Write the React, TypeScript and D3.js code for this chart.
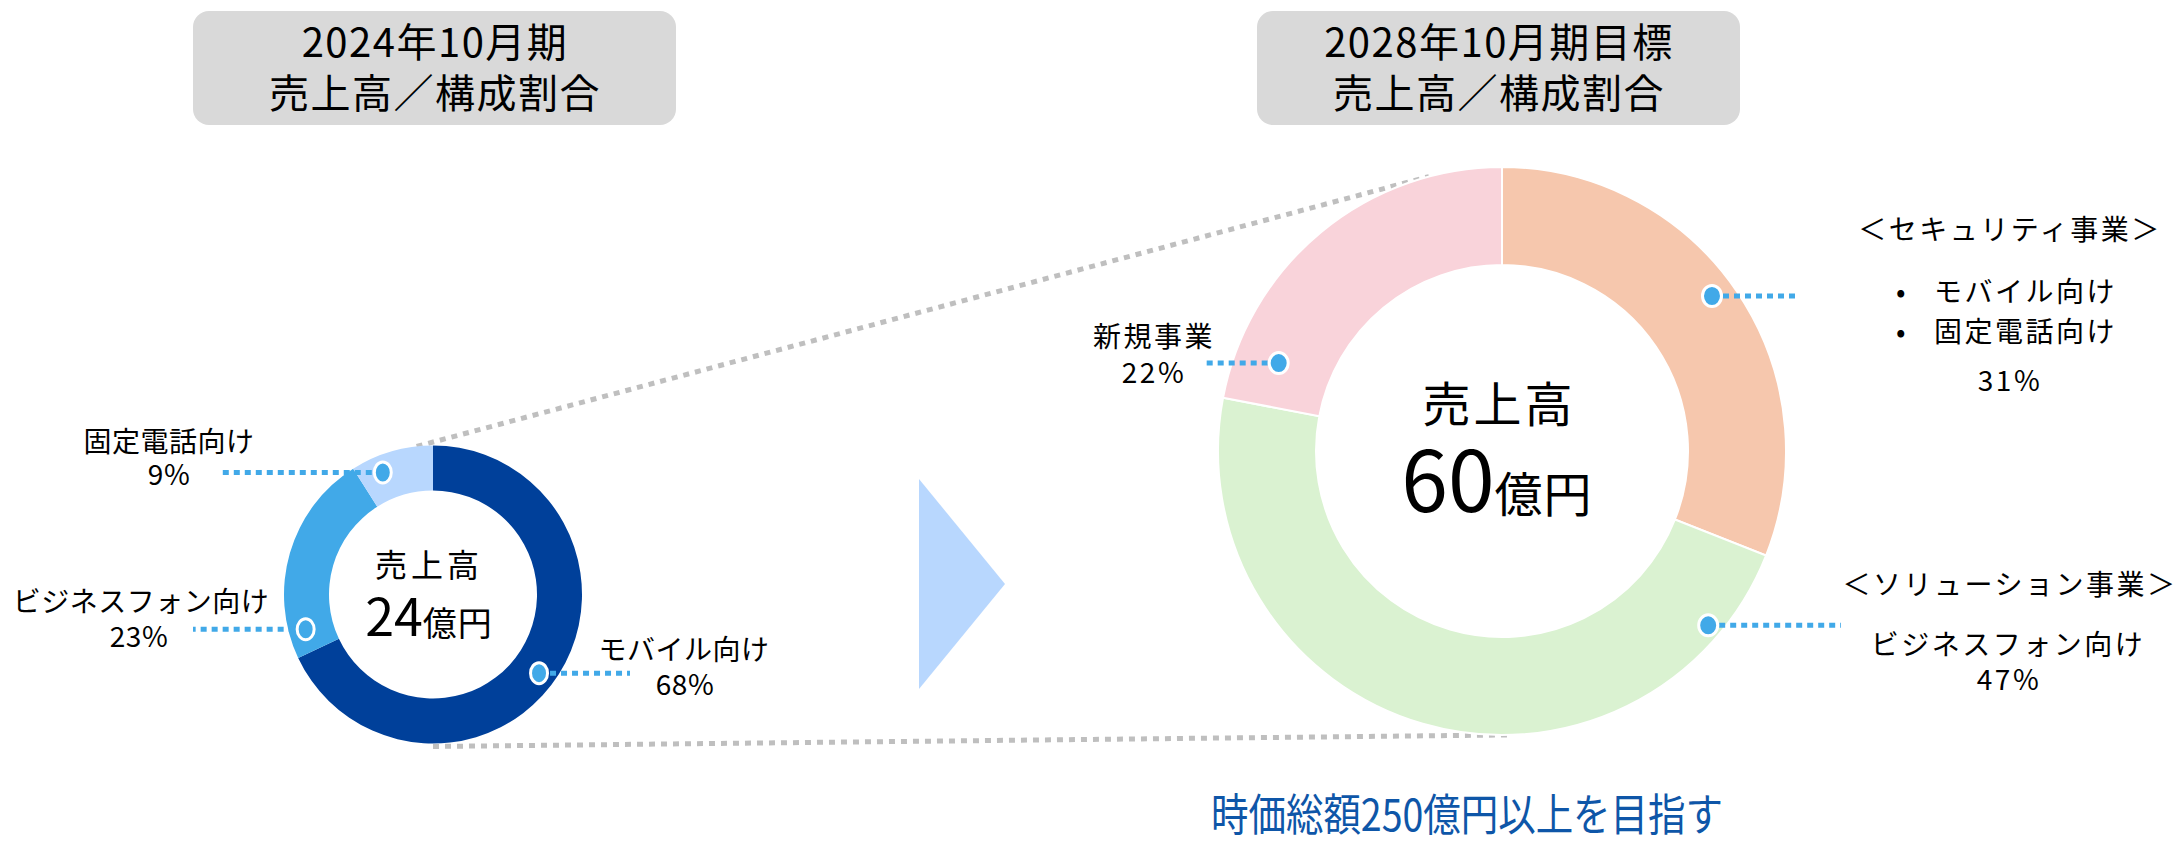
import React from "react";
import * as d3 from "d3";

// ---- data ----
const leftCategories = ["モバイル向け", "ビジネスフォン向け", "固定電話向け"];
const leftValues = [68, 23, 9];
const leftColors = ["#00409A", "#41A9E8", "#B8D7FE"];
const leftTotal = "24";

const rightCategories = ["セキュリティ事業", "ソリューション事業", "新規事業"];
const rightValues = [31, 47, 22];
const rightColors = ["#F6C7AD", "#DAF2D1", "#F9D3DA"];
const rightTotal = "60";

const leftTitle = ["2024年10月期", "売上高／構成割合"];
const rightTitle = ["2028年10月期目標", "売上高／構成割合"];
const centerLabel = "売上高";
const unitLabel = "億円";
const securityItems = ["モバイル向け", "固定電話向け"];
const goalText = "時価総額250億円以上を目指す";

// marker placement inside each slice (fraction of slice span)
const leftMarkerFrac = [0.517, 0.12, 0.31];
const rightMarkerFrac = [0.48, 0.11, 0.135];

const FONT = "'Noto Sans CJK JP', 'Noto Sans', sans-serif";
const MARK = "#41A9E8";

function polar(cx: number, cy: number, r: number, a: number) {
  return [cx + r * Math.sin(a), cy - r * Math.cos(a)];
}

export default function App() {
  const pie = d3.pie<number>().sort(null).value((d) => d);

  // left donut
  const L = { cx: 433, cy: 594.5, ri: 104, ro: 149, rm: 132 };
  const lArcs = pie(leftValues);
  const lArc = d3.arc<d3.PieArcDatum<number>>().innerRadius(L.ri).outerRadius(L.ro);
  const lMarks = lArcs.map((a, i) =>
    polar(L.cx, L.cy, L.rm, a.startAngle + leftMarkerFrac[i] * (a.endAngle - a.startAngle))
  );

  // right donut
  const R = { cx: 1502, cy: 451, ri: 186, ro: 284 };
  const rRadii = [261, 270, 240];
  const rArcs = pie(rightValues);
  const rArc = d3.arc<d3.PieArcDatum<number>>().innerRadius(R.ri).outerRadius(R.ro);
  const rMarks = rArcs.map((a, i) =>
    polar(R.cx, R.cy, rRadii[i], a.startAngle + rightMarkerFrac[i] * (a.endAngle - a.startAngle))
  );

  const lLeaderEnd = [630, 193, 222];
  const rLeaderEnd = [1800, 1841, 1205];

  // zoom connector lines
  const lTop = polar(L.cx, L.cy, L.ro, -0.11);
  const rTop = polar(R.cx, R.cy, R.ro, -0.26);
  const lBot = polar(L.cx, L.cy, L.ro + 3, Math.PI);
  const rBot = polar(R.cx, R.cy, R.ro, Math.PI - 0.02);

  const leader = (x1: number, y: number, x2: number, key: string) => (
    <line key={key} x1={x1} y1={y} x2={x2} y2={y} stroke={MARK} strokeWidth={5} strokeDasharray="6 5" />
  );

  return (
    <svg
      width={2182}
      height={841}
      style={{ position: "absolute", left: 0, top: 0, display: "block", background: "#fff" }}
      fontFamily={FONT}
    >
      {/* title boxes */}
      <rect x={193} y={11} width={483} height={114} rx={16} fill="#D9D9D9" />
      <rect x={1257} y={11} width={483} height={114} rx={16} fill="#D9D9D9" />
      <g fontSize={40} textAnchor="middle" fill="#000" letterSpacing={1.5}>
        <text x={435} y={57}>{leftTitle[0]}</text>
        <text x={435} y={108}>{leftTitle[1]}</text>
        <text x={1499} y={57}>{rightTitle[0]}</text>
        <text x={1499} y={108}>{rightTitle[1]}</text>
      </g>

      {/* connector dotted lines */}
      <line x1={lTop[0]} y1={lTop[1]} x2={rTop[0]} y2={rTop[1]} stroke="#BFBFBF" strokeWidth={5} strokeDasharray="6 6" />
      <line x1={lBot[0]} y1={lBot[1]} x2={rBot[0]} y2={rBot[1]} stroke="#BFBFBF" strokeWidth={5} strokeDasharray="6 6" />

      {/* arrow */}
      <polygon points="919,479 1005,584 919,689" fill="#B8D7FE" />

      {/* left donut */}
      <g transform={`translate(${L.cx},${L.cy})`}>
        {lArcs.map((a, i) => (
          <path key={i} d={lArc(a) || ""} fill={leftColors[i]} />
        ))}
      </g>
      {lMarks.map((m, i) => leader(m[0], m[1], lLeaderEnd[i], "ll" + i))}
      {lMarks.map((m, i) => (
        <ellipse key={"lm" + i} cx={m[0]} cy={m[1]} rx={8.5} ry={10.5} fill={MARK} stroke="#fff" strokeWidth={3} />
      ))}
      <text x={429} y={577} fontSize={32} textAnchor="middle" letterSpacing={4}>{centerLabel}</text>
      <text x={429} y={636} textAnchor="middle">
        <tspan fontSize={52}>{leftTotal}</tspan>
        <tspan fontSize={34} letterSpacing={1}>{unitLabel}</tspan>
      </text>

      {/* left labels */}
      <g fontSize={28} textAnchor="middle" letterSpacing={0.5}>
        <text x={684} y={660}>{leftCategories[0]}</text>
        <text x={685} y={695}>{leftValues[0]}%</text>
        <text x={141} y={612}>{leftCategories[1]}</text>
        <text x={139} y={647}>{leftValues[1]}%</text>
        <text x={169} y={452}>{leftCategories[2]}</text>
        <text x={169} y={485}>{leftValues[2]}%</text>
      </g>

      {/* right donut */}
      <g transform={`translate(${R.cx},${R.cy})`}>
        {rArcs.map((a, i) => (
          <path key={i} d={rArc(a) || ""} fill={rightColors[i]} stroke="#fff" strokeWidth={2} />
        ))}
      </g>
      {rMarks.map((m, i) => leader(m[0], m[1], rLeaderEnd[i], "rl" + i))}
      {rMarks.map((m, i) => (
        <ellipse key={"rm" + i} cx={m[0]} cy={m[1]} rx={9.5} ry={10.5} fill={MARK} stroke="#fff" strokeWidth={3} />
      ))}
      <text x={1499} y={422} fontSize={48} textAnchor="middle" letterSpacing={3}>{centerLabel}</text>
      <text x={1497} y={512} textAnchor="middle">
        <tspan fontSize={84}>{rightTotal}</tspan>
        <tspan fontSize={48} letterSpacing={1}>{unitLabel}</tspan>
      </text>

      {/* right labels */}
      <g fontSize={28} letterSpacing={2.5}>
        <text x={2010} y={240} textAnchor="middle">＜{rightCategories[0]}＞</text>
        <text x={1902} y={302} textAnchor="middle">•</text>
        <text x={1934} y={302}>{securityItems[0]}</text>
        <text x={1902} y={342} textAnchor="middle">•</text>
        <text x={1934} y={342}>{securityItems[1]}</text>
        <text x={2010} y={391} textAnchor="middle">{rightValues[0]}%</text>

        <text x={2010} y={595} textAnchor="middle">＜{rightCategories[1]}＞</text>
        <text x={2008} y={655} textAnchor="middle">{leftCategories[1]}</text>
        <text x={2009} y={690} textAnchor="middle">{rightValues[1]}%</text>

        <text x={1154} y={347} textAnchor="middle">{rightCategories[2]}</text>
        <text x={1154} y={383} textAnchor="middle">{rightValues[2]}%</text>
      </g>

      {/* goal */}
      <text x={1467} y={831} fontSize={44} textAnchor="middle" fill="#0E56A8" textLength={512} lengthAdjust="spacingAndGlyphs">
        {goalText}
      </text>
    </svg>
  );
}
